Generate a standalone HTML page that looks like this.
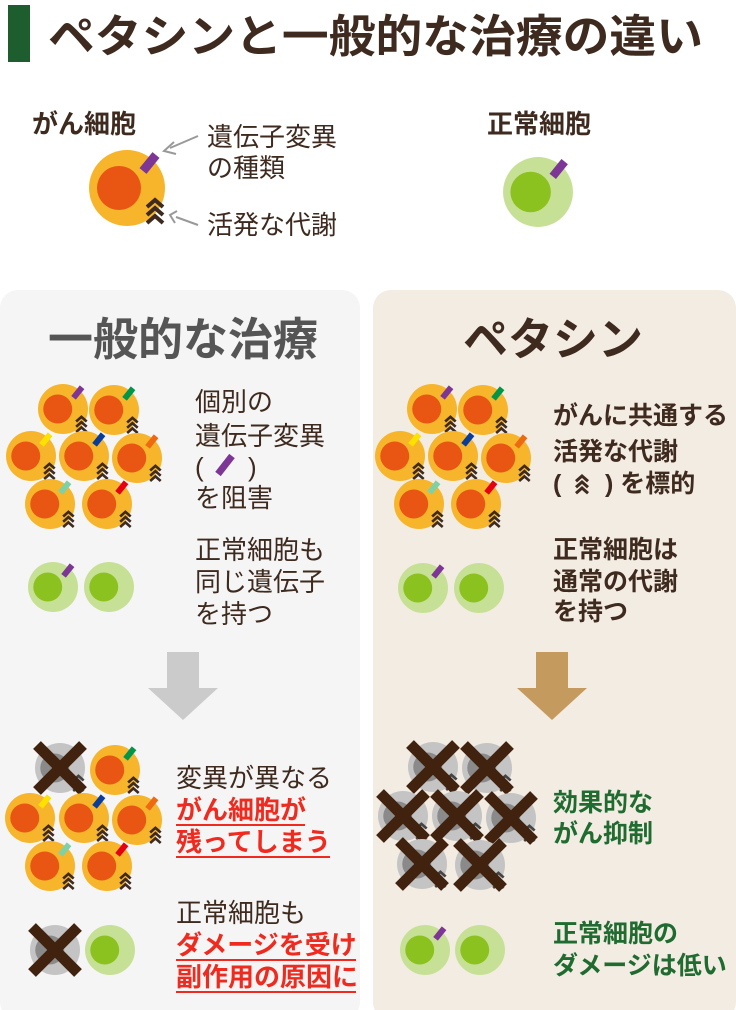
<!DOCTYPE html>
<html><head><meta charset="utf-8"><style>
html,body{margin:0;padding:0;background:#fff;}
svg{display:block;font-family:"Liberation Sans","Noto Sans CJK JP",sans-serif;}
.t{fill:#3e2a1e;font-size:26px;}
.b{fill:#3e2a1e;font-size:26px;font-weight:bold;}
.r{fill:#f02a1e;font-size:26px;font-weight:bold;}
.g{fill:#1f6b30;font-size:25px;font-weight:bold;}
.k{fill:#3e2a1e;font-size:25px;font-weight:bold;}
</style></head><body>
<svg id="s" width="736" height="1010" viewBox="0 0 736 1010" xmlns="http://www.w3.org/2000/svg">
<rect x="8" y="5" width="22" height="57" fill="#1e5e2e"/>
<text x="48" y="52" font-size="45" font-weight="bold" fill="#3e2a1e" textLength="655" lengthAdjust="spacingAndGlyphs">ペタシンと一般的な治療の違い</text>
<text x="32" y="133" class="b" font-size="28">がん細胞</text>
<text x="487" y="133" class="b" font-size="28">正常細胞</text>
<text x="207" y="146" class="t" font-size="29">遺伝子変異</text>
<text x="207" y="177" class="t" font-size="29">の種類</text>
<text x="207" y="234" class="t" font-size="29">活発な代謝</text>
<line x1="198" y1="136" x2="170" y2="148" stroke="#999" stroke-width="2"/>
<polyline points="174,142 164,151 176,154" fill="none" stroke="#999" stroke-width="2"/>
<line x1="198" y1="225" x2="176" y2="217" stroke="#999" stroke-width="2"/>
<polyline points="177,211 170,215 175,223" fill="none" stroke="#999" stroke-width="2"/>
<rect x="0" y="290" width="360" height="730" rx="18" fill="#f5f5f5"/>
<rect x="373" y="290" width="363" height="730" rx="18" fill="#f3ece2"/>
<text x="183" y="355" text-anchor="middle" font-size="45" font-weight="bold" fill="#555">一般的な治療</text>
<text x="553" y="355" text-anchor="middle" font-size="45" font-weight="bold" fill="#3e2a1e">ペタシン</text>
<text x="195" y="411" class="t">個別の</text>
<text x="195" y="445" class="t">遺伝子変異</text>
<text x="195" y="476" class="t">(</text>
<text x="248" y="476" class="t">)</text>
<line x1="218" y1="474" x2="232" y2="456" stroke="#7d3596" stroke-width="7"/>
<text x="195" y="507" class="t">を阻害</text>
<text x="195" y="559" class="t">正常細胞も</text>
<text x="195" y="591" class="t">同じ遺伝子</text>
<text x="195" y="623" class="t">を持つ</text>
<text x="553" y="424" class="k">がんに共通する</text>
<text x="553" y="460" class="k">活発な代謝</text>
<text x="553" y="492" class="k">(</text>
<text x="605" y="492" class="k">) を標的</text>
<text x="553" y="558" class="k">正常細胞は</text>
<text x="553" y="590" class="k">通常の代謝</text>
<text x="553" y="620" class="k">を持つ</text>
<polygon points="167,652 199,652 199,688 218,688 183,720 148,688 167,688" fill="#cbcbcb"/>
<polygon points="536,652 568,652 568,688 587,688 552,720 517,688 536,688" fill="#c49a5e"/>
<text x="176" y="787" class="t">変異が異なる</text>
<text x="176" y="819" class="r">がん細胞が</text>
<text x="176" y="851" class="r">残ってしまう</text>
<line x1="176" y1="825" x2="305" y2="825" stroke="#f02a1e" stroke-width="2"/>
<line x1="176" y1="857" x2="330" y2="857" stroke="#f02a1e" stroke-width="2"/>
<text x="176" y="922" class="t">正常細胞も</text>
<text x="176" y="954" class="r">ダメージを受け</text>
<text x="176" y="986" class="r">副作用の原因に</text>
<line x1="176" y1="960" x2="356" y2="960" stroke="#f02a1e" stroke-width="2"/>
<line x1="176" y1="992" x2="356" y2="992" stroke="#f02a1e" stroke-width="2"/>
<text x="553" y="811" class="g">効果的な</text>
<text x="553" y="842" class="g">がん抑制</text>
<text x="553" y="942" class="g">正常細胞の</text>
<text x="553" y="974" class="g">ダメージは低い</text>
<g id="cells"></g>
</svg>
<script>
var NS="http://www.w3.org/2000/svg",G=document.getElementById("cells");
function el(t,a){var e=document.createElementNS(NS,t);for(var k in a)e.setAttribute(k,a[k]);G.appendChild(e);return e;}
function chev(x,y,s,c){for(var i=0;i<3;i++){el("polyline",{points:(x-8*s)+","+(y+i*8*s+7*s)+" "+x+","+(y+i*8*s)+" "+(x+8*s)+","+(y+i*8*s+7*s),fill:"none",stroke:c,"stroke-width":Math.max(2.2,4*s)});}}
function cancer(x,y,s,tag,dead){
 el("circle",{cx:x,cy:y,r:38*s,fill:dead?"#c4c4c4":"#f7b52c"});
 el("circle",{cx:x-8*s,cy:y,r:22*s,fill:dead?"#8a8a8a":"#e95513"});
 if(tag&&!dead)el("line",{x1:x+16*s,y1:y-17*s,x2:x+29*s,y2:y-33*s,stroke:tag,"stroke-width":9*s});
 chev(x+28*s,y+12*s,s,dead?"#444":"#3e2a1e");
 if(dead)X(x,y);
}
function normal(x,y,s,tag,dead){
 el("circle",{cx:x,cy:y,r:38*s,fill:dead?"#c4c4c4":"#c6e196"});
 el("circle",{cx:x-8*s,cy:y,r:22*s,fill:dead?"#8a8a8a":"#8cc21f"});
 if(tag&&!dead)el("line",{x1:x+16*s,y1:y-17*s,x2:x+29*s,y2:y-33*s,stroke:"#7d3596","stroke-width":9*s});
 if(dead)X(x,y);
}
function X(x,y){var d=23;el("line",{x1:x-d,y1:y-d,x2:x+d,y2:y+d,stroke:"#40220f","stroke-width":11});el("line",{x1:x-d,y1:y+d,x2:x+d,y2:y-d,stroke:"#40220f","stroke-width":11});}
cancer(127,188,1,"#7d3596");
normal(538,192,0.92,true);
var tags=["#7d3596","#00964a","#ffe100","#0a3c9b","#ee6a12","#7fd0a4","#e60012"];
var P=[[63,409],[114,410],[31,456],[84,456],[137,458],[50,504],[107,504]];
var s=25/38;
P.forEach(function(p,i){cancer(p[0],p[1],s,tags[i]);cancer(p[0]+369,p[1],s,tags[i]);});
normal(53,587,s,true);normal(109,587,s,false);
normal(423,588,s,true);normal(479,588,s,false);
var B=[[60,768],[115,770],[30,818],[84,818],[137,820],[50,866],[107,866]];
B.forEach(function(p,i){cancer(p[0],p[1],s,tags[i],i==0);});
var R=[[433,767],[487,768],[403,816],[457,816],[511,818],[422,864],[480,865]];
R.forEach(function(p,i){cancer(p[0],p[1],s,tags[i],true);});
normal(55,950,s,true,true);normal(110,950,s,false);
normal(425,950,s,true);normal(480,950,s,false);
chev(582,476,0.75,"#3e2a1e");
</script>
</body></html>
